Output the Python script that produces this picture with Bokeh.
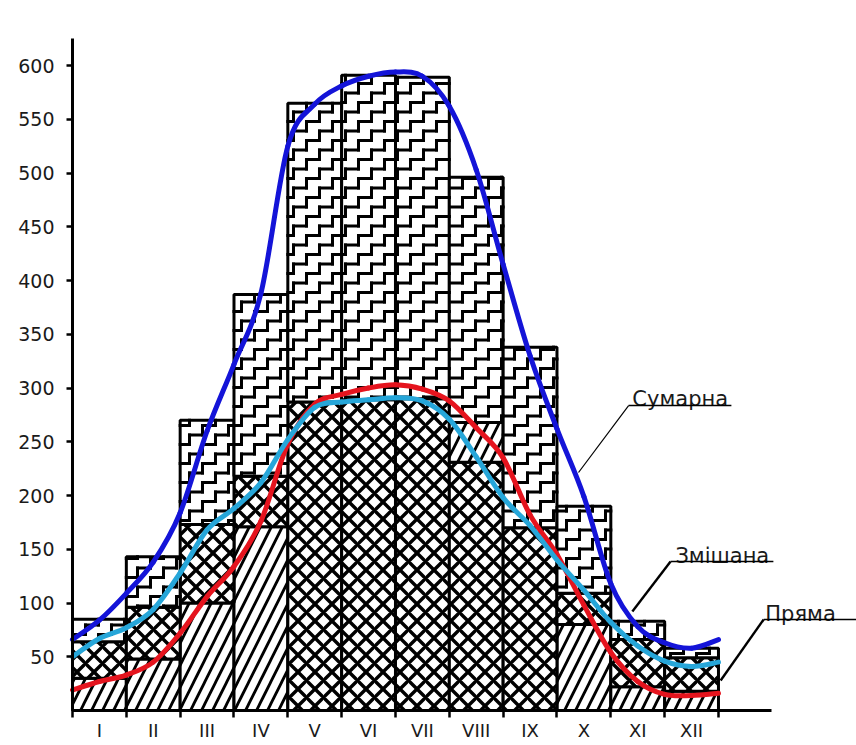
import math
from bokeh.plotting import figure
from bokeh.models import Range1d, LinearAxis, FixedTicker, ColumnDataSource
from bokeh.core.properties import value
from bokeh.embed import file_html
from bokeh.resources import INLINE

# ---------------- data ----------------
months = ["I", "II", "III", "IV", "V", "VI", "VII", "VIII", "IX", "X", "XI", "XII"]
month_pos = [1, 2, 3, 4, 5, 6, 7, 8, 9, 10, 11, 12]
# bar layer tops (values)
total_top = [85, 143, 270, 387, 565, 591, 589, 496, 338, 190, 83, 58]        # staircase layer top
upper_diag_top = [64, 96, 173, 218, 287, 289, 290, 268, 170, 109, 66, 49]    # single-hatch band above cross
cross_top = [64, 96, 173, 218, 287, 289, 290, 231, 170, 109, 66, 49]         # cross-hatched layer top
lower_diag_top = [30, 48, 100, 171, 0, 0, 0, 0, 0, 80, 22, 18]               # diagonal layer top

# curves, read every half month from the left edge of I to the right edge of XII
curve_x = [0.5, 1.0, 1.5, 2.0, 2.5, 3.0, 3.5, 4.0, 4.5, 5.0, 5.5, 6.0, 6.5,
           7.0, 7.5, 8.0, 8.5, 9.0, 9.5, 10.0, 10.5, 11.0, 11.5, 12.0, 12.5]
sumarna = [66, 84, 109, 138, 184, 260, 322, 388, 525, 564, 581, 590, 594,
           590, 562, 503, 415, 330, 262, 199, 118, 78, 63, 58, 66]
zmishana = [50, 67, 77, 94, 128, 168, 188, 212, 252, 282, 287, 289, 291,
            288, 271, 236, 198, 172, 140, 112, 82, 60, 46, 41, 45]
pryama = [19, 27, 33, 45, 72, 106, 134, 176, 248, 285, 294, 300, 303,
          299, 288, 263, 235, 182, 145, 98, 54, 27, 15, 14, 16]

y_ticks = [50, 100, 150, 200, 250, 300, 350, 400, 450, 500, 550, 600]
bar_edges = [0.5, 1.5, 2.5, 3.5, 4.5, 5.5, 6.5, 7.5, 8.5, 9.5, 10.5, 11.5, 12.5]
series_names = ["Сумарна", "Змішана", "Пряма"]

# ---------------- figure ----------------
W, H = 856, 745
X_START, X_END = -0.8375, 15.064
Y_START, Y_END = -32.55, 660.47
KX = W / (X_END - X_START)   # px per month
KY = H / (Y_END - Y_START)   # px per unit

p = figure(width=W, height=H,
           x_range=Range1d(X_START, X_END), y_range=Range1d(Y_START, Y_END),
           x_axis_type=None, y_axis_type=None,
           toolbar_location=None, output_backend="svg", min_border=0, title=None)
p.outline_line_color = None
p.background_fill_color = "white"
p.border_fill_color = "white"


def layer(bottoms, tops):
    xs, bs, ts = [], [], []
    for x, b, t in zip(month_pos, bottoms, tops):
        if t > b:
            xs.append(x)
            bs.append(b)
            ts.append(t)
    return ColumnDataSource(dict(x=xs, bottom=bs, top=ts))


common = dict(width=1, fill_color="white", line_color="black", line_width=3,
              hatch_color="black")

zeros = [0] * len(month_pos)
p.vbar(x="x", bottom="bottom", top="top", source=layer(zeros, lower_diag_top),
       hatch_pattern="right_diagonal_line", hatch_scale=22, hatch_weight=2.8, **common)
p.vbar(x="x", bottom="bottom", top="top", source=layer(lower_diag_top, cross_top),
       hatch_pattern="diagonal_cross", hatch_scale=17, hatch_weight=3.4, **common)
p.vbar(x="x", bottom="bottom", top="top", source=layer(cross_top, upper_diag_top),
       hatch_pattern="right_diagonal_line", hatch_scale=22, hatch_weight=2.8, **common)
p.vbar(x="x", bottom="bottom", top="top", source=layer(upper_diag_top, total_top), **common)

# staircase fill pattern of the top layer, clipped to each bar of that layer
SW, SH = 13.0, 9.5  # step width / step height in px
sx0, sy0, sx1, sy1 = [], [], [], []


def add_seg(ua, va, ub, vb):
    sx0.append(ua / KX + 0.5)
    sy0.append(va / KY)
    sx1.append(ub / KX + 0.5)
    sy1.append(vb / KY)


for xc, b, t in zip(month_pos, upper_diag_top, total_top):
    if t <= b:
        continue
    U0, U1 = (xc - 1.0) * KX, xc * KX
    V0, V1 = b * KY, t * KY
    for i in range(math.floor(U0 / SW), math.ceil(U1 / SW)):
        ua, ub = max(U0, i * SW), min(U1, (i + 1) * SW)
        base = i * SH
        m0 = math.floor((V0 - base) / (2 * SH)) - 1
        m1 = math.ceil((V1 - base) / (2 * SH)) + 1
        for m in range(m0, m1 + 1):
            v = base + 2 * SH * m
            if V0 + 1 < v < V1 - 1 and ub > ua:
                add_seg(ua, v, ub, v)
            uv = (i + 1) * SW
            if U0 + 1 < uv < U1 - 1:
                va, vb = max(V0, v), min(V1, v + SH)
                if vb > va:
                    add_seg(uv, va, uv, vb)

p.segment(x0=sx0, y0=sy0, x1=sx1, y1=sy1, line_color="black", line_width=3,
          line_cap="square")


# curves drawn as smooth Catmull-Rom Bezier pieces through the read points
def smooth(xs, ys, color):
    n = len(xs)
    d = dict(x0=[], y0=[], x1=[], y1=[], cx0=[], cy0=[], cx1=[], cy1=[])
    for i in range(n - 1):
        xm, ym = (xs[i - 1], ys[i - 1]) if i > 0 else (xs[i], ys[i])
        xp, yp = (xs[i + 2], ys[i + 2]) if i + 2 < n else (xs[i + 1], ys[i + 1])
        d["x0"].append(xs[i]); d["y0"].append(ys[i])
        d["x1"].append(xs[i + 1]); d["y1"].append(ys[i + 1])
        d["cx0"].append(xs[i] + (xs[i + 1] - xm) / 6)
        d["cy0"].append(ys[i] + (ys[i + 1] - ym) / 6)
        d["cx1"].append(xs[i + 1] - (xp - xs[i]) / 6)
        d["cy1"].append(ys[i + 1] - (yp - ys[i]) / 6)
    p.bezier(x0="x0", y0="y0", x1="x1", y1="y1", cx0="cx0", cy0="cy0", cx1="cx1",
             cy1="cy1", source=ColumnDataSource(d), line_color=color, line_width=5,
             line_cap="round")


smooth(curve_x, pryama, "#e5141e")
smooth(curve_x, zmishana, "#26a6d9")
smooth(curve_x, sumarna, "#1414d8")

# axes
yax = LinearAxis(fixed_location=0.5, bounds=(0, 625), ticker=FixedTicker(ticks=y_ticks))
yax.axis_line_width = 3
yax.axis_line_color = "black"
yax.major_tick_out = 6
yax.major_tick_in = 0
yax.major_tick_line_width = 2.5
yax.minor_tick_line_color = None
yax.major_label_standoff = 12
yax.major_label_text_font = "DejaVu Sans"
yax.major_label_text_font_size = "19px"
yax.major_label_text_color = "#1a1a1a"
p.add_layout(yax, "left")

xax = LinearAxis(fixed_location=0, bounds=(0.5, 13.48),
                 ticker=FixedTicker(ticks=month_pos, minor_ticks=bar_edges))
xax.axis_line_width = 3
xax.axis_line_color = "black"
xax.major_tick_line_color = None
xax.major_tick_out = 0
xax.major_tick_in = 0
xax.minor_tick_out = 7
xax.minor_tick_in = 0
xax.minor_tick_line_width = 2.5
xax.minor_tick_line_color = "black"
xax.major_label_overrides = {pos: m for pos, m in zip(month_pos, months)}
xax.major_label_standoff = 2
xax.major_label_text_font = "DejaVu Sans"
xax.major_label_text_font_size = "18px"
xax.major_label_text_color = "#1a1a1a"
p.add_layout(xax, "below")

# callout labels (layout positions in data units)
label_x = [10.90, 11.70, 13.37]
label_y = [290, 144, 90]
p.text(x=label_x, y=label_y, text=series_names, text_font=value("DejaVu Sans"),
       text_font_size="21px", text_color="#1a1a1a", text_align="left",
       text_baseline="alphabetic")
# underlines
p.segment(x0=[10.83, 11.61, 13.34], y0=[283.7, 138.6, 84.7],
          x1=[12.74, 13.52, 15.1], y1=[283.7, 138.6, 84.7],
          line_color="black", line_width=1.6)
# leaders
p.segment(x0=[10.83], y0=[283.7], x1=[9.90], y1=[221.4], line_color="black", line_width=1.2)
p.segment(x0=[11.61, 13.34], y0=[138.6, 84.7], x1=[10.90, 12.54], y1=[92.1, 27.9],
          line_color="black", line_width=2.4)

open("out.html", "w").write(file_html(p, INLINE))
